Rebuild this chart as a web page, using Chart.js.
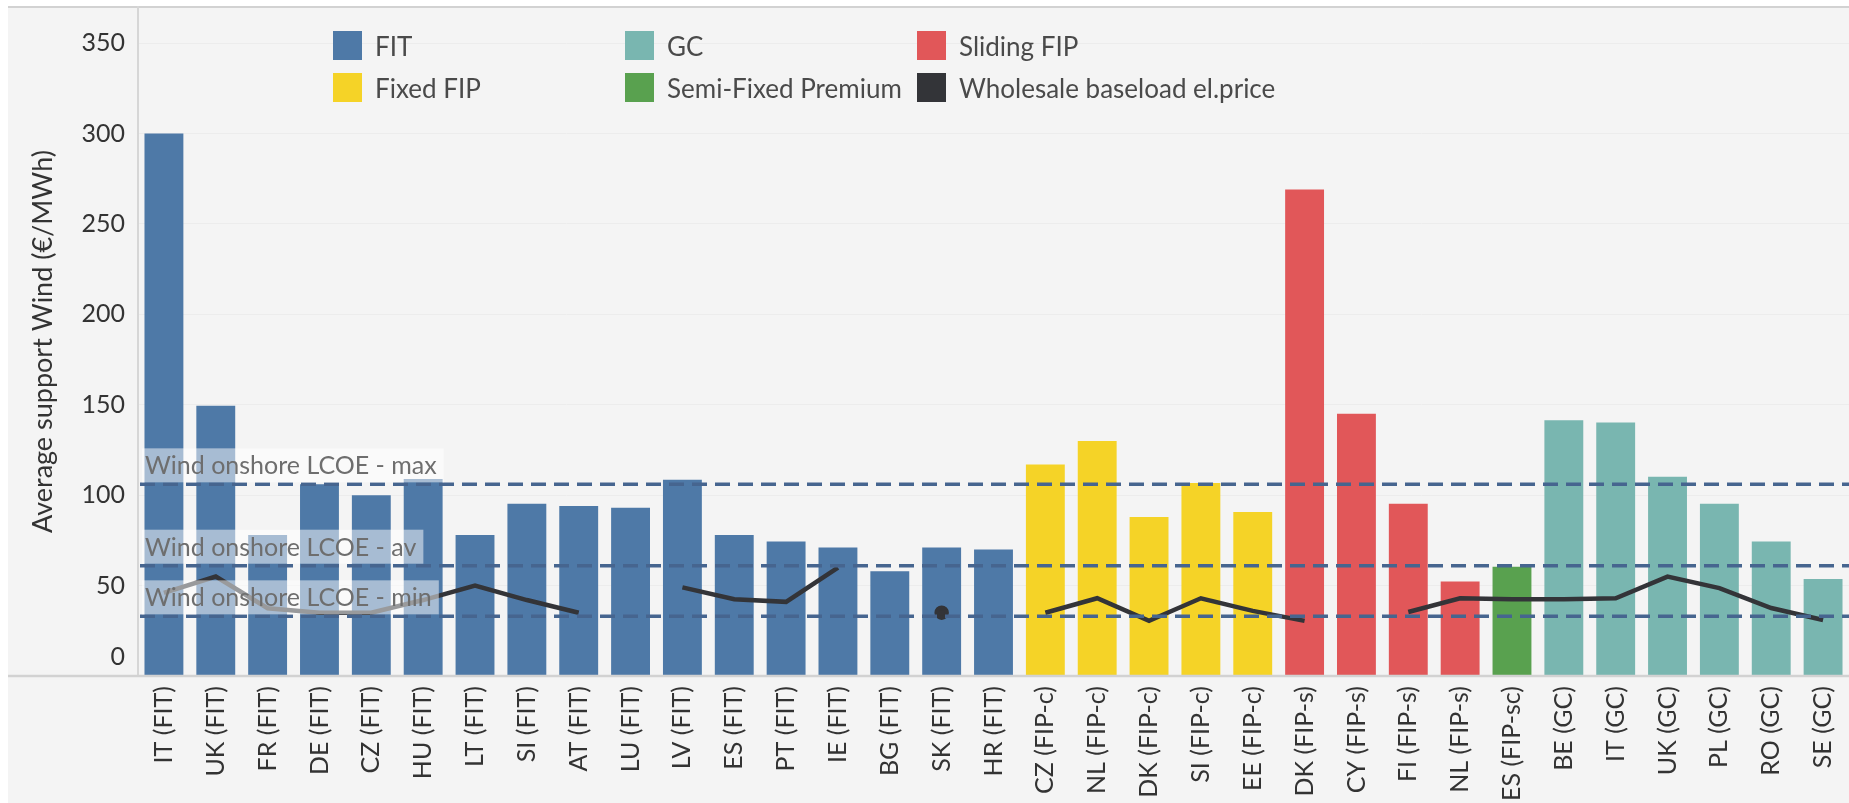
<!DOCTYPE html>
<html>
<head>
<meta charset="utf-8">
<script src="https://cdn.jsdelivr.net/npm/chart.js@4.4.1/dist/chart.umd.min.js"></script>
<style>
  body { margin: 0; background: #fff; overflow: hidden; }
  #bg { position: absolute; left: 8px; top: 6px; right: 0; bottom: 0; background: #f4f4f4; border-top: 2px solid #d2d2d2; }
  #chart { position: absolute; left: 0; top: 0; }
  #legend { position: absolute; left: 333px; top: 31px; display: grid; grid-template-columns: 292px 292px auto; row-gap: 13px;
            font-family: Lato, sans-serif; font-size: 26px; color: #4a4a4a; }
  .item { display: flex; align-items: center; height: 29px; }
  .sw { width: 29px; height: 29px; margin-right: 13px; flex: none; }
</style>
</head>
<body>
<div id="bg"></div>
<canvas id="chart" width="1849" height="803"></canvas>
<div id="legend"></div>
<script>
  const categories = ['IT (FIT)','UK (FIT)','FR (FIT)','DE (FIT)','CZ (FIT)','HU (FIT)','LT (FIT)','SI (FIT)','AT (FIT)',
    'LU (FIT)','LV (FIT)','ES (FIT)','PT (FIT)','IE (FIT)','BG (FIT)','SK (FIT)','HR (FIT)',
    'CZ (FIP-c)','NL (FIP-c)','DK (FIP-c)','SI (FIP-c)','EE (FIP-c)',
    'DK (FIP-s)','CY (FIP-s)','FI (FIP-s)','NL (FIP-s)','ES (FIP-sc)',
    'BE (GC)','IT (GC)','UK (GC)','PL (GC)','RO (GC)','SE (GC)']

  const scheme = ['FIT','FIT','FIT','FIT','FIT','FIT','FIT','FIT','FIT','FIT','FIT','FIT','FIT','FIT','FIT','FIT','FIT',
    'Fixed FIP','Fixed FIP','Fixed FIP','Fixed FIP','Fixed FIP',
    'Sliding FIP','Sliding FIP','Sliding FIP','Sliding FIP','Semi-Fixed Premium',
    'GC','GC','GC','GC','GC','GC']

  // average support (€/MWh)
  const support = [300, 149.5, 78, 106, 100, 109, 78, 95.3, 94, 93, 108.5, 78, 74.4, 71, 58, 71, 70,
    117, 130, 88, 106.7, 90.7,
    269, 145, 95.3, 52.3, 60.4,
    141.5, 140.2, 110.2, 95.3, 74.4, 53.6]

  // wholesale baseload price, gaps where no value
  const wholesale = [46, 55, 37.5, 35, 35, 42, 50, 42, 35, null, 49, 42.5, 41, 60, null, 35, null,
    35, 43, 30.5, 43, 36,
    30.5, null, 35.4, 43, 42.5,
    42.5, 43, 55, 48.6, 37.6, 31]

  const lcoeNames = ['Wind onshore LCOE - max', 'Wind onshore LCOE - av', 'Wind onshore LCOE - min']
  const lcoeValues = [106, 61, 33]

  const legendNames = ['FIT', 'GC', 'Sliding FIP', 'Fixed FIP', 'Semi-Fixed Premium', 'Wholesale baseload el.price']
  const legendColors = ['#4e79a7', '#79b6b0', '#e15759', '#f5d327', '#59a14f', '#333438']

  const colorOf = (name) => legendColors[legendNames.indexOf(name)]

  //legend as html
  document.getElementById('legend').innerHTML = legendNames.map((n, i) =>
    `<div class="item"><span class="sw" style="background:${legendColors[i]}"></span>${n}</div>`).join('')

  const lcoePlugin = {
    id: 'lcoe',
    afterDatasetsDraw(chart) {
      const {ctx, chartArea, scales} = chart
      ctx.save()
      ctx.lineWidth = 3.5
      ctx.strokeStyle = '#46658f'
      ctx.setLineDash([15, 8])
      lcoeValues.forEach(v => {
        const y = scales.y.getPixelForValue(v)
        ctx.beginPath()
        ctx.moveTo(chartArea.left + 2, y)
        ctx.lineTo(chartArea.right, y)
        ctx.stroke()
      })
      ctx.setLineDash([])
      ctx.font = '25px Lato'
      ctx.textBaseline = 'middle'
      lcoeNames.forEach((name, i) => {
        const y = scales.y.getPixelForValue(lcoeValues[i])
        const w = ctx.measureText(name).width
        ctx.fillStyle = 'rgba(255,255,255,0.5)'
        ctx.fillRect(chartArea.left + 4, y - 36, w + 10, 34)
        ctx.fillStyle = '#6e6e6e'
        ctx.fillText(name, chartArea.left + 7, y - 18)
      })
      ctx.restore()
    },
    afterDraw(chart) {
      const {ctx, scales} = chart
      const y0 = scales.y.getPixelForValue(0)
      ctx.save()
      ctx.strokeStyle = '#d2d2d2'
      ctx.lineWidth = 2.5
      ctx.beginPath()
      ctx.moveTo(8, y0)
      ctx.lineTo(chart.width, y0)
      ctx.stroke()
      // tableau lifts the zero label above the baseline
      ctx.font = '25px Lato'
      ctx.fillStyle = '#333'
      ctx.textAlign = 'right'
      ctx.textBaseline = 'middle'
      ctx.fillText('0', scales.y.right - 13, y0 - 19)
      ctx.restore()
    }
  }

  new Chart(document.getElementById('chart'), {
    type: 'bar',
    data: {
      labels: categories,
      datasets: [
        {
          type: 'line',
          label: 'Wholesale baseload el.price',
          data: wholesale,
          borderColor: colorOf('Wholesale baseload el.price'),
          backgroundColor: colorOf('Wholesale baseload el.price'),
          borderWidth: 4.5,
          tension: 0,
          spanGaps: false,
          pointRadius: (c) => {
            const i = c.dataIndex
            return wholesale[i] != null && wholesale[i - 1] == null && wholesale[i + 1] == null ? 5 : 0
          },
          order: 0,
        },
        {
          label: 'Average support',
          data: support,
          backgroundColor: scheme.map(colorOf),
          barPercentage: 0.75,
          categoryPercentage: 1,
          order: 1,
        },
      ],
    },
    options: {
      responsive: false,
      animation: false,
      layout: { padding: { top: 7, left: 0, right: 0, bottom: 0 } },
      plugins: {
        legend: { display: false },
        tooltip: { enabled: false },
      },
      scales: {
        x: {
          grid: { display: false, drawTicks: false },
          border: { display: false },
          ticks: {
            minRotation: 90, maxRotation: 90, autoSkip: false, padding: 10,
            color: '#333', font: { family: 'Lato', size: 25 },
          },
          afterFit: (s) => { s.height = 127; s.paddingLeft = 0; s.paddingRight = 0 },
        },
        y: {
          min: 0, max: 370,
          grid: { color: '#ececec', lineWidth: 1, drawTicks: false },
          border: { display: true, color: '#d6d6d6', width: 2 },
          ticks: {
            stepSize: 50, includeBounds: false, padding: 13,
            color: '#333', font: { family: 'Lato', size: 25 },
            callback: (v) => v === 0 ? '' : v,
          },
          title: {
            display: true, text: 'Average support Wind (€/MWh)',
            color: '#333', font: { family: 'Lato', size: 27 },
            padding: { top: 27, bottom: 0 },
          },
          afterFit: (s) => { s.width = 138; s.paddingTop = 0; s.paddingBottom = 0 },
        },
      },
    },
    plugins: [lcoePlugin],
  })
</script>
</body>
</html>
